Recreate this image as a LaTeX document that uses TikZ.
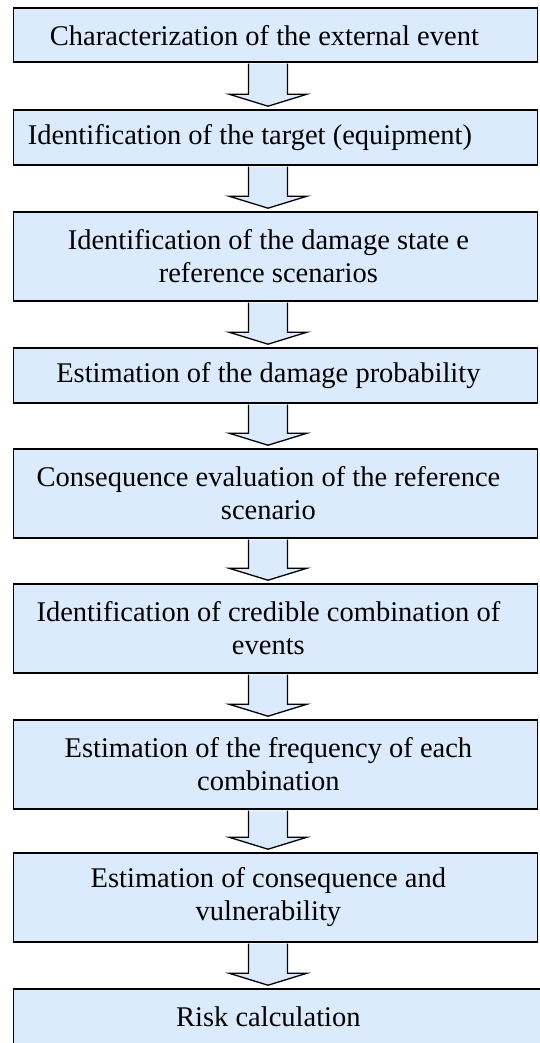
\documentclass[tikz,border=0pt]{standalone}
\usepackage{fontspec}
\setmainfont{Liberation Serif}
\usepackage{tikz}

\definecolor{boxblue}{RGB}{219,234,252}
\newcommand{\boxfont}{\fontsize{28.5}{33}\selectfont}

\tikzset{
  stepbox/.style={rectangle, draw, line width=1.6pt, fill=boxblue, minimum width=524pt, inner sep=0pt},
  steptext/.style={font=\boxfont, align=center, inner sep=0pt},
  arrowshape/.style={draw, line width=1.3pt, fill=boxblue},
}

% hollow block arrow from box #1 down to box #2
\newcommand{\flowarrow}[2]{%
  \draw[arrowshape] ([xshift=-19.5pt,yshift=-0.8pt]axis |- #1.south)
    -- ([xshift=-19.5pt,yshift=15pt]axis |- #2.north)
    -- ([xshift=-39pt,yshift=15pt]axis |- #2.north)
    -- ([yshift=3pt]axis |- #2.north)
    -- ([xshift=39pt,yshift=15pt]axis |- #2.north)
    -- ([xshift=19.5pt,yshift=15pt]axis |- #2.north)
    -- ([xshift=19.5pt,yshift=-0.8pt]axis |- #1.south);}

\begin{document}
\begin{tikzpicture}[x=1pt, y=1pt]
				\useasboundingbox (0,0) rectangle (539,-1043);
				\coordinate (axis) at (268,0);
				
				\node[stepbox, minimum height=54pt, label={[steptext, xshift=-11pt, yshift=-1pt]center:Characterization of the external event}] (b1) at (275.4,-35) {};
				\node[stepbox, minimum height=55pt, label={[steptext, xshift=-25.5pt]center:Identification of the target (equipment)}] (b2) at (275.4,-137.5) {};
				\node[stepbox, minimum height=89pt, label={[steptext, xshift=-7pt]center:Identification of the damage state e\\reference scenarios}] (b3) at (275.4,-256.5) {};
				\node[stepbox, minimum height=55pt, label={[steptext, xshift=-7pt]center:Estimation of the damage probability}] (b4) at (275.4,-375.5) {};
				\node[stepbox, minimum height=89pt, label={[steptext, xshift=-7pt]center:Consequence evaluation of the reference\\scenario}] (b5) at (275.4,-493.5) {};
				\node[stepbox, minimum height=89pt, label={[steptext, xshift=-7pt]center:Identification of credible combination of\\events}] (b6) at (275.4,-628.5) {};
				\node[stepbox, minimum height=89pt, label={[steptext, xshift=-7pt]center:Estimation of the frequency of each\\combination}] (b7) at (275.4,-764.5) {};
				\node[stepbox, minimum height=89pt, label={[steptext, xshift=-7pt]center:Estimation of consequence and\\vulnerability}] (b8) at (275.4,-897.5) {};
				\node[stepbox, minimum width=532pt, minimum height=56pt, label={[steptext, xshift=-11pt]center:Risk calculation}] (b9) at (279.4,-1017) {};
				
				\flowarrow{b1}{b2}
				\flowarrow{b2}{b3}
				\flowarrow{b3}{b4}
				\flowarrow{b4}{b5}
				\flowarrow{b5}{b6}
				\flowarrow{b6}{b7}
				\flowarrow{b7}{b8}
				\flowarrow{b8}{b9}
			\end{tikzpicture}
\end{document}
